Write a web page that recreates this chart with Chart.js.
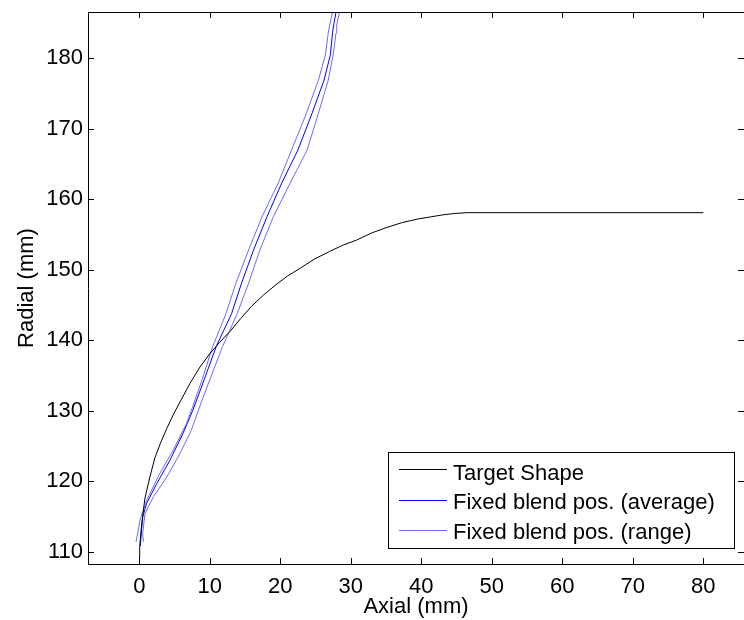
<!DOCTYPE html>
<html>
<head>
<meta charset="utf-8">
<script src="https://cdn.jsdelivr.net/npm/chart.js@4.4.1/dist/chart.umd.min.js"></script>
<style>
html,body{margin:0;padding:0;background:#fff;}
canvas{display:block;}
</style>
</head>
<body>
<canvas id="c" width="744" height="620"></canvas>
<script>
// ---- data ----
const xTickValues = [0, 10, 20, 30, 40, 50, 60, 70, 80];
const yTickValues = [110, 120, 130, 140, 150, 160, 170, 180];

const targetX = [0, 0.05, 0.34, 0.8, 1.5, 2.2, 3.0, 3.9, 4.8, 5.8, 7.2, 8.6, 10.0, 11.4, 12.9, 14.4, 15.9, 17.6, 19.4, 21.0, 22.8, 24.8, 27.0, 28.9, 30.8, 32.9, 35.1, 37.3, 39.5, 41.3, 43.1, 44.9, 46.6, 80];
const targetY = [109.1, 110.7, 114.0, 117.6, 120.6, 123.3, 125.4, 127.5, 129.4, 131.3, 133.9, 136.2, 138.1, 139.7, 141.3, 143.1, 144.8, 146.4, 147.9, 149.1, 150.2, 151.5, 152.6, 153.5, 154.2, 155.2, 156.0, 156.7, 157.2, 157.5, 157.8, 158.0, 158.1, 158.1];

const avgX = [0.15, 0.3, 0.5, 1.05, 2.5, 4.35, 6.2, 7.6, 9.2, 10.9, 13.1, 14.5, 16.2, 18.1, 20.2, 22.5, 24.5, 26.2, 27.1, 27.4, 27.6, 27.9, 28.1];
const avgY = [110.8, 113.0, 115.0, 116.9, 119.7, 123.0, 126.8, 130.1, 134.4, 139.1, 143.8, 148.1, 152.8, 157.5, 162.3, 167.0, 172.2, 176.9, 180.5, 183.6, 184.9, 186.6, 187.5];

const rangeLoX = [-0.47, -0.2, 0.1, 1.05, 2.9, 4.8, 6.7, 7.9, 8.9, 10.4, 12.3, 13.7, 15.5, 17.4, 19.7, 21.6, 23.7, 25.4, 26.4, 26.8, 27.0, 27.4, 27.6];
const rangeLoY = [111.4, 112.8, 114.5, 117.3, 121.1, 124.4, 128.2, 131.5, 134.4, 139.1, 143.8, 148.1, 152.8, 157.5, 162.3, 167.0, 172.2, 176.9, 180.5, 183.6, 184.7, 186.6, 187.5];

const rangeHiX = [0.57, 0.48, 0.8, 2.0, 3.9, 5.8, 7.4, 8.9, 10.0, 11.8, 13.9, 15.5, 17.1, 19.0, 21.4, 23.8, 25.4, 26.8, 27.5, 27.9, 28.0, 28.4, 28.6];
const rangeHiY = [111.4, 112.6, 115.4, 117.8, 120.6, 124.0, 127.3, 131.5, 134.4, 139.1, 143.8, 148.1, 152.8, 157.5, 162.3, 167.0, 172.2, 176.9, 180.5, 183.6, 184.7, 186.6, 187.5];

const seriesNames = ['Target Shape', 'Fixed blend pos. (average)', 'Fixed blend pos. (range)'];
const xTitle = 'Axial (mm)';
const yTitle = 'Radial (mm)';

// ---- build ----
const zip = (xs, ys) => xs.map((x, i) => ({x: x, y: ys[i]}));
const FONT = '"Liberation Sans", Arial, Helvetica, sans-serif';
const COL_T = '#000000';
const COL_A = '#0000ff';
const COL_R = '#6a6aff';

const boxPlugin = {
  id: 'matlabBox',
  afterDatasetsDraw(chart) {
    const ctx = chart.ctx;
    const a = chart.chartArea;
    const xs = chart.scales.x, ys = chart.scales.y;
    ctx.save();
    ctx.strokeStyle = '#000';
    ctx.lineWidth = 1;
    ctx.beginPath();
    ctx.moveTo(Math.round(a.left) + 0.5, Math.round(a.top) + 0.5);
    ctx.lineTo(Math.round(a.left) + 0.5, Math.round(a.bottom) + 0.5);
    ctx.lineTo(Math.round(a.right) + 0.5, Math.round(a.bottom) + 0.5);
    ctx.lineTo(Math.round(a.right) + 0.5, Math.round(a.top) + 0.5);
    ctx.closePath();
    const tl = 6;
    xTickValues.forEach(v => {
      const px = Math.round(xs.getPixelForValue(v)) + 0.5;
      ctx.moveTo(px, a.bottom); ctx.lineTo(px, a.bottom - tl);
      ctx.moveTo(px, a.top); ctx.lineTo(px, a.top + tl);
    });
    yTickValues.forEach(v => {
      const py = Math.round(ys.getPixelForValue(v)) + 0.5;
      ctx.moveTo(a.left, py); ctx.lineTo(a.left + tl, py);
      ctx.moveTo(a.right, py); ctx.lineTo(a.right - tl, py);
    });
    ctx.stroke();

    ctx.fillStyle = '#000';
    ctx.font = '22px ' + FONT;
    ctx.textAlign = 'center';
    ctx.textBaseline = 'middle';
    ctx.fillText(xTitle, (a.left + a.right) / 2, 607);
    ctx.save();
    ctx.translate(27, (a.top + a.bottom) / 2);
    ctx.rotate(-Math.PI / 2);
    ctx.fillText(yTitle, 0, 0);
    ctx.restore();

    const lx = 388.5, ly = 452.5, lw = 346, lh = 96;
    ctx.fillStyle = '#fff';
    ctx.fillRect(lx, ly, lw, lh);
    ctx.strokeStyle = '#000';
    ctx.lineWidth = 1;
    ctx.strokeRect(lx, ly, lw, lh);
    const rows = [
      {c: COL_T, ly: 469.5, ty: 480},
      {c: COL_A, ly: 500.5, ty: 509},
      {c: COL_R, ly: 530.5, ty: 539}
    ];
    ctx.textAlign = 'left';
    ctx.textBaseline = 'alphabetic';
    rows.forEach((r, i) => {
      ctx.strokeStyle = r.c;
      ctx.beginPath();
      ctx.moveTo(399, r.ly); ctx.lineTo(447, r.ly);
      ctx.stroke();
      ctx.fillStyle = '#000';
      ctx.fillText(seriesNames[i], 453, r.ty);
    });
    ctx.restore();
  }
};

const setTicks = vals => function(scale) { scale.ticks = vals.map(v => ({value: v})); };

new Chart(document.getElementById('c'), {
  type: 'line',
  data: {
    datasets: [
      {label: seriesNames[0], data: zip(targetX, targetY), borderColor: COL_T, borderWidth: 1, pointRadius: 0, tension: 0, fill: false},
      {label: seriesNames[2], data: zip(rangeLoX, rangeLoY), borderColor: COL_R, borderWidth: 1, pointRadius: 0, tension: 0, fill: false},
      {label: seriesNames[2], data: zip(rangeHiX, rangeHiY), borderColor: COL_R, borderWidth: 1, pointRadius: 0, tension: 0, fill: false},
      {label: seriesNames[1], data: zip(avgX, avgY), borderColor: COL_A, borderWidth: 1, pointRadius: 0, tension: 0, fill: false}
    ]
  },
  options: {
    responsive: false,
    animation: false,
    layout: {padding: {top: 12, right: 0, left: 0, bottom: 0}},
    plugins: {legend: {display: false}, tooltip: {enabled: false}},
    scales: {
      x: {
        type: 'linear',
        min: -7.28, max: 85.77,
        afterBuildTicks: setTicks(xTickValues),
        afterFit(s) { s.height = 56; s.paddingLeft = 0; s.paddingRight = 0; },
        grid: {display: false, drawTicks: false},
        border: {display: false},
        ticks: {padding: 10, color: '#000', font: {size: 22, family: FONT}, maxRotation: 0, autoSkip: false}
      },
      y: {
        type: 'linear',
        min: 108.255, max: 186.57,
        afterBuildTicks: setTicks(yTickValues),
        afterFit(s) { s.width = 88; s.paddingTop = 0; s.paddingBottom = 0; },
        grid: {display: false, drawTicks: false},
        border: {display: false},
        ticks: {padding: 5, color: '#000', font: {size: 22, family: FONT}, autoSkip: false}
      }
    }
  },
  plugins: [boxPlugin]
});
</script>
</body>
</html>
